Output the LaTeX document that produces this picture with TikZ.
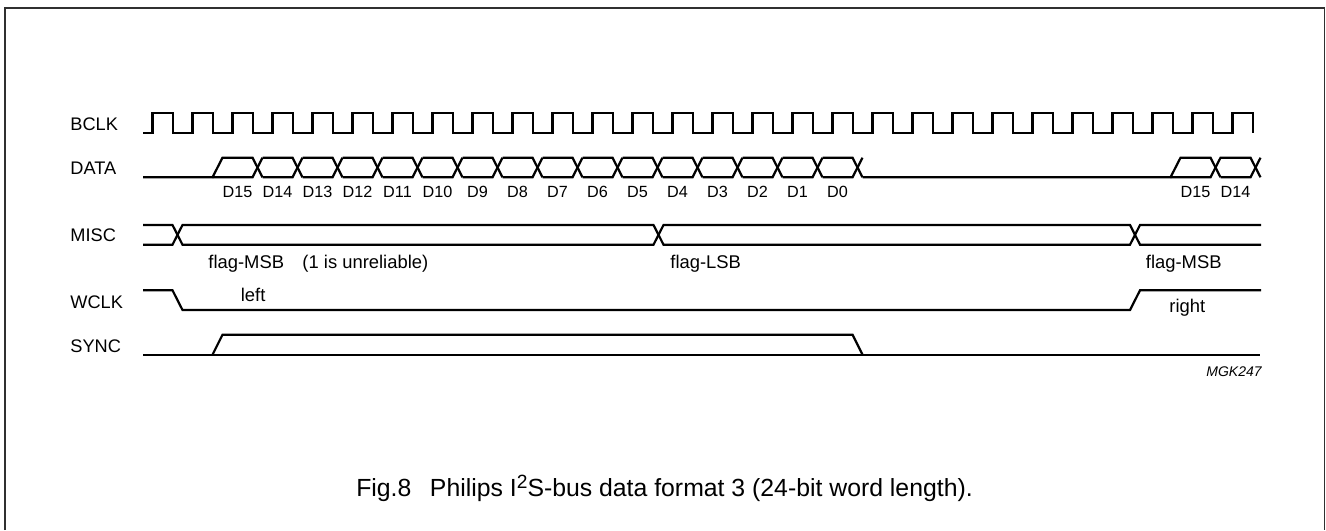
\documentclass[tikz,border=0pt]{standalone}
\usepackage{fontspec}
\setmainfont{Liberation Sans}
\definecolor{framegray}{HTML}{303030}
\tikzset{
    wave/.style={line width=1.1pt,line join=miter},
    signame/.style={anchor=base west,inner sep=0pt,font=\fontsize{9.1}{11}\selectfont},
    bitname/.style={anchor=base,inner sep=0pt,font=\fontsize{8.1}{10}\selectfont},
    flagname/.style={anchor=base west,inner sep=0pt,font=\fontsize{9.2}{11}\selectfont},
}
\begin{document}
\begin{tikzpicture}[x=0.5pt,y=-0.5pt]

    \useasboundingbox (0,0) rectangle (1326,530);

    % Cornice
    \draw[line width=0.75pt,framegray] (5,530) -- (5,8) -- (1324.5,8) -- (1324.5,530);

    % Nomi dei segnali
    \node[signame] (bclk) at (70,130) {BCLK};
    \node[signame] (data) at (70,174) {DATA};
    \node[signame] (misc) at (70,241) {MISC};
    \node[signame] (wclk) at (70,308) {WCLK};
    \node[signame] (sync) at (70,352) {SYNC};

    % BCLK
    \draw[wave] (143,132.7)
        \foreach \k in {0,...,27} {
            -- (152.5+40*\k,132.7) -- (152.5+40*\k,112.7) -- (172.7+40*\k,112.7) -- (172.7+40*\k,132.7)
        };

    % DATA: primo bit e bit successivi
    \draw[wave] (143,177.3) -- (212.5,177.3) -- (222.5,157.7) -- (252.5,157.7) -- (262.5,177.3);
    \draw[wave] (212.5,177.3) -- (252.5,177.3) -- (262.5,157.7);
    \foreach \k in {1,...,15} {
        \draw[wave] (222.5+40*\k,157.7) -- (252.5+40*\k,157.7) -- (262.5+40*\k,177.3);
        \draw[wave] (222.5+40*\k,177.3) -- (252.5+40*\k,177.3) -- (262.5+40*\k,157.7);
    }
    \draw[wave] (862.5,177.3) -- (1170.5,177.3) -- (1180.5,157.7) -- (1210.5,157.7) -- (1220.5,177.3);
    \draw[wave] (1170.5,177.3) -- (1210.5,177.3) -- (1220.5,157.7) -- (1250.5,157.7) -- (1260.5,177.3);
    \draw[wave] (1220.5,177.3) -- (1250.5,177.3) -- (1260.5,157.7);

    % Etichette dei bit
    \foreach \k/\name in {0/D15,1/D14,2/D13,3/D12,4/D11,5/D10,6/D9,7/D8,8/D7,9/D6,10/D5,11/D4,12/D3,13/D2,14/D1,15/D0} {
        \node[bitname] (bit\k) at (237.5+40*\k,197) {\name};
    }
    \node[bitname] (bitA) at (1195.5,197) {D15};
    \node[bitname] (bitB) at (1235.5,197) {D14};

    % MISC
    \draw[wave] (143,225) -- (172.5,225) -- (182.5,244.7) -- (653.5,244.7) -- (663.5,225) -- (1130,225) -- (1140,244.7) -- (1261,244.7);
    \draw[wave] (143,244.7) -- (172.5,244.7) -- (182.5,225) -- (653.5,225) -- (663.5,244.7) -- (1130,244.7) -- (1140,225) -- (1261,225);
    \node[flagname] (flagA) at (208,268) {flag-MSB\hspace{1em}(1 is unreliable)};
    \node[flagname] (flagB) at (670,268) {flag-LSB};
    \node[flagname] (flagC) at (1145.5,268) {flag-MSB};

    % WCLK
    \draw[wave] (143,290.3) -- (172.5,290.3) -- (182.5,310) -- (1130,310) -- (1140,290.3) -- (1261,290.3);
    \node[flagname] (left) at (240.5,301) {left};
    \node[flagname] (right) at (1169,312) {right};

    % SYNC
    \draw[wave] (143,354.7) -- (1260,354.7);
    \draw[wave] (212.5,354.7) -- (222.5,334.7) -- (852.5,334.7) -- (862.5,354.7);

    % Riferimento e didascalia
    \node[anchor=base east,inner sep=0pt,font=\fontsize{7}{8}\selectfont\itshape] (ref) at (1262,376) {MGK247};
    \node[anchor=base,inner sep=0pt,font=\fontsize{12.4}{14}\selectfont] (caption) at (664.5,496) {Fig.8\hspace{0.75em}Philips I\raisebox{0.3em}{\fontsize{9.6}{11}\selectfont 2}S-bus data format 3 (24-bit word length).};

\end{tikzpicture}
\end{document}
